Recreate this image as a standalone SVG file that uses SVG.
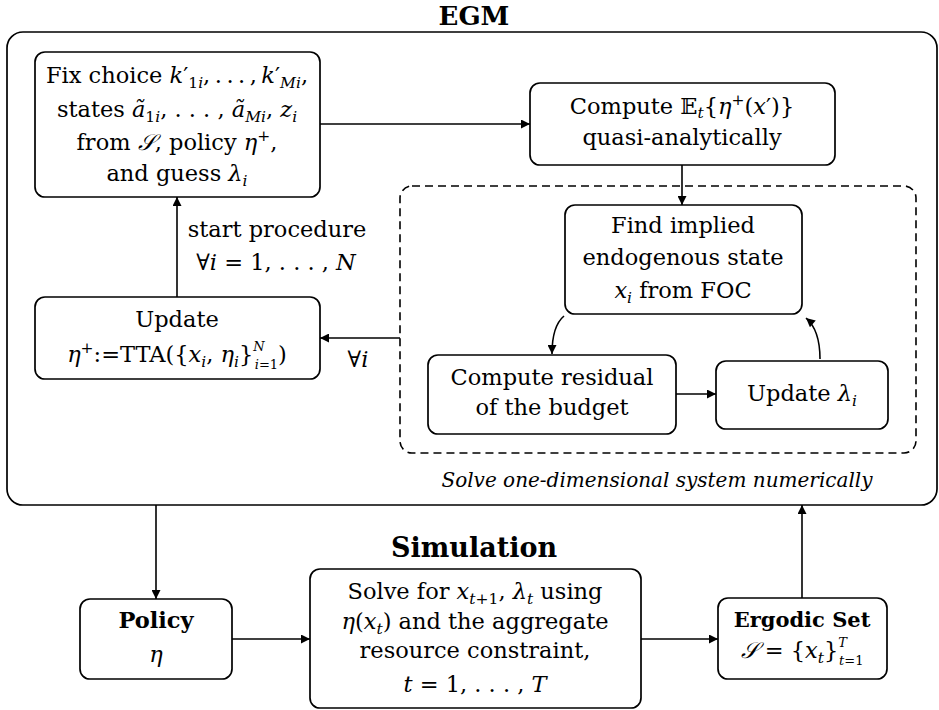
<svg xmlns="http://www.w3.org/2000/svg" width="939" height="710" viewBox="0 0 939 710">
<style>
text{font-family:"DejaVu Serif","Liberation Serif",serif;font-size:22.5px;fill:#000}
.t{text-anchor:middle}
.i{font-style:italic}
.b{font-weight:bold}
.s{font-size:15.5px}
.ss{font-size:13px}
.box{fill:#fff;stroke:#000;stroke-width:1.7}
.ln{fill:none;stroke:#000;stroke-width:1.6}
</style>
<defs>
<marker id="ah" viewBox="0 0 10 10" refX="10" refY="5" markerUnits="userSpaceOnUse" markerWidth="11" markerHeight="9" orient="auto">
<path d="M0,0 L10,5 L0,10 z" fill="#000"/>
</marker>
</defs>

<text class="t b" x="474" y="25" style="font-size:26px">EGM</text>
<rect id="egm" x="7" y="32" width="930" height="473" rx="16" fill="none" stroke="#000" stroke-width="1.7"/>
<rect id="inner" x="400" y="186" width="516" height="267" rx="12" fill="none" stroke="#000" stroke-width="1.6" stroke-dasharray="8,5"/>
<text class="t i" x="657" y="487" style="font-size:20px">Solve one-dimensional system numerically</text>
<text class="t b" x="474" y="557" style="font-size:27px">Simulation</text>

<g id="connectors">
<line class="ln" x1="320" y1="124" x2="530" y2="124" marker-end="url(#ah)"/>
<line class="ln" x1="682" y1="165" x2="682" y2="205" marker-end="url(#ah)"/>
<path class="ln" d="M564 316 Q552 326 552 354" marker-end="url(#ah)"/>
<line class="ln" x1="676" y1="394" x2="716" y2="394" marker-end="url(#ah)"/>
<path class="ln" d="M820 359 Q820 330 806 318" marker-end="url(#ah)"/>
<line class="ln" x1="400" y1="338" x2="320" y2="338" marker-end="url(#ah)"/>
<line class="ln" x1="177" y1="297" x2="177" y2="197" marker-end="url(#ah)"/>
<line class="ln" x1="156" y1="505" x2="156" y2="599" marker-end="url(#ah)"/>
<line class="ln" x1="232" y1="639" x2="310" y2="639" marker-end="url(#ah)"/>
<line class="ln" x1="641" y1="639" x2="718" y2="639" marker-end="url(#ah)"/>
<line class="ln" x1="802" y1="598" x2="802" y2="505" marker-end="url(#ah)"/>
<text class="t" x="277" y="237">start procedure</text>
<text class="t" x="276" y="270"><tspan>∀</tspan><tspan class="i">i</tspan> = 1, . . . , <tspan class="i">N</tspan></text>
<text class="t" x="358" y="367">∀<tspan class="i">i</tspan></text>
</g>

<g id="fix">
<rect class="box" x="35" y="52" width="285" height="145" rx="10"/>
<text class="t" x="177" y="83">Fix choice <tspan class="i">k</tspan>′<tspan class="s" baseline-shift="-5">1<tspan class="i">i</tspan></tspan>,&#8201;.&#8201;.&#8201;.&#8201;,&#8201;<tspan class="i">k</tspan>′<tspan class="s" baseline-shift="-5"><tspan class="i">Mi</tspan></tspan>,</text>
<text class="t" x="177" y="117">states <tspan class="i">ã</tspan><tspan class="s" baseline-shift="-5">1<tspan class="i">i</tspan></tspan>, . . . , <tspan class="i">ã</tspan><tspan class="s i" baseline-shift="-5">Mi</tspan>, <tspan class="i">z</tspan><tspan class="s i" baseline-shift="-5">i</tspan></text>
<text class="t" x="177" y="150">from <tspan class="i">𝒮</tspan>, policy <tspan class="i">η</tspan><tspan class="s" baseline-shift="9">+</tspan>,</text>
<text class="t" x="177" y="181">and guess <tspan class="i">λ</tspan><tspan class="s i" baseline-shift="-5">i</tspan></text>
</g>

<g id="compute">
<rect class="box" x="530" y="83" width="305" height="82" rx="10"/>
<text class="t" x="682" y="114">Compute <tspan>𝔼</tspan><tspan class="s i" baseline-shift="-4">t</tspan>{<tspan class="i">η</tspan><tspan class="s" baseline-shift="9">+</tspan>(<tspan class="i">x</tspan>′)}</text>
<text class="t" x="682" y="145">quasi-analytically</text>
</g>

<g id="find">
<rect class="box" x="565" y="205" width="237" height="109" rx="10"/>
<text class="t" x="683" y="233">Find implied</text>
<text class="t" x="683" y="265">endogenous state</text>
<text class="t" x="683" y="298"><tspan class="i">x</tspan><tspan class="s i" baseline-shift="-5">i</tspan> from FOC</text>
</g>

<g id="residual">
<rect class="box" x="428" y="355" width="248" height="79" rx="10"/>
<text class="t" x="552" y="385">Compute residual</text>
<text class="t" x="552" y="415">of the budget</text>
</g>

<g id="updlam">
<rect class="box" x="716" y="361" width="172" height="68" rx="10"/>
<text class="t" x="802" y="401">Update <tspan class="i">λ</tspan><tspan class="s i" baseline-shift="-5">i</tspan></text>
</g>

<g id="updeta">
<rect class="box" x="35" y="297" width="285" height="82" rx="10"/>
<text class="t" x="177" y="327">Update</text>
<text class="t" x="177" y="362"><tspan class="i">η</tspan><tspan class="s" baseline-shift="9">+</tspan>:=TTA({<tspan class="i">x</tspan><tspan class="s i" baseline-shift="-5">i</tspan>, <tspan class="i">η</tspan><tspan class="s i" baseline-shift="-5">i</tspan>}<tspan class="ss i" baseline-shift="11">N</tspan><tspan class="ss" baseline-shift="-7" dx="-10"><tspan class="i">i</tspan>=1</tspan>)</text>
</g>

<g id="policy">
<rect class="box" x="80" y="599" width="152" height="80" rx="10"/>
<text class="t b" x="156" y="628">Policy</text>
<text class="t i" x="156" y="662">η</text>
</g>

<g id="solve">
<rect class="box" x="310" y="569" width="331" height="139" rx="10"/>
<text class="t" x="475" y="599">Solve for <tspan class="i">x</tspan><tspan class="s" baseline-shift="-5"><tspan class="i">t</tspan>+1</tspan>, <tspan class="i">λ</tspan><tspan class="s i" baseline-shift="-5">t</tspan> using</text>
<text class="t" x="475" y="629"><tspan class="i">η</tspan>(<tspan class="i">x</tspan><tspan class="s i" baseline-shift="-5">t</tspan>) and the aggregate</text>
<text class="t" x="475" y="658">resource constraint,</text>
<text class="t" x="475" y="692"><tspan class="i">t</tspan>  =  1, . . . , <tspan class="i">T</tspan></text>
</g>

<g id="ergodic">
<rect class="box" x="718" y="598" width="169" height="81" rx="10"/>
<text class="t b" x="802" y="627" style="font-size:21px">Ergodic Set</text>
<text class="t" x="802" y="658"><tspan class="i">𝒮</tspan> = {<tspan class="i">x</tspan><tspan class="s i" baseline-shift="-5">t</tspan>}<tspan class="ss i" baseline-shift="11">T</tspan><tspan class="ss" baseline-shift="-7" dx="-8"><tspan class="i">t</tspan>=1</tspan></text>
</g>
</svg>
